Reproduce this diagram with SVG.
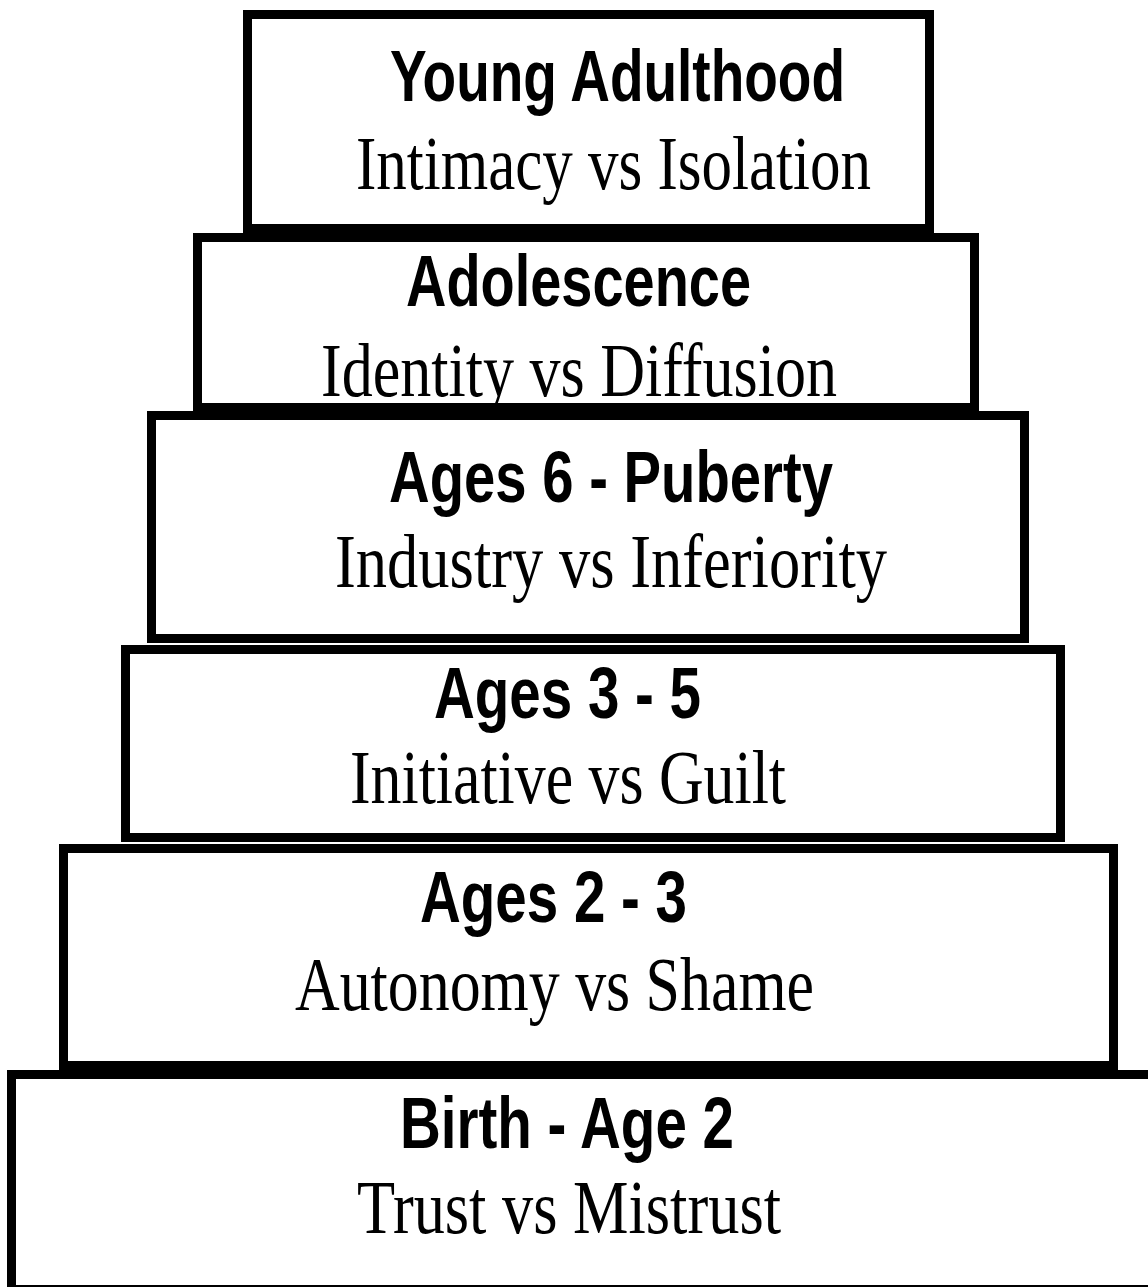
<svg xmlns="http://www.w3.org/2000/svg" width="1148" height="1287" viewBox="0 0 1148 1287">
  <style>
    .box { fill: #ffffff; stroke: #000000; stroke-width: 9; }
    .title { font-family: "Liberation Sans", Arial, sans-serif; font-weight: bold; font-size: 72px; fill: #000; }
    .sub { font-family: "Liberation Serif", "Times New Roman", serif; font-size: 76px; fill: #000; }
  </style>
  <rect x="0" y="0" width="1148" height="1287" fill="#ffffff"/>
  <g id="node-young-adulthood">
    <rect class="box" x="247.5" y="14.5" width="682" height="214"/>
    <text class="title" x="390" y="101" textLength="455" lengthAdjust="spacingAndGlyphs">Young Adulthood</text>
    <text class="sub" x="356" y="189" textLength="515" lengthAdjust="spacingAndGlyphs">Intimacy vs Isolation</text>
  </g>
  <g id="node-adolescence">
    <rect class="box" x="197.5" y="237.5" width="777" height="170"/>
    <text class="title" x="406" y="306" textLength="345" lengthAdjust="spacingAndGlyphs">Adolescence</text>
    <text class="sub" x="321" y="396" textLength="516" lengthAdjust="spacingAndGlyphs">Identity vs Diffusion</text>
  </g>
  <g id="node-ages-6-puberty">
    <rect class="box" x="151.5" y="415.5" width="873" height="223"/>
    <text class="title" x="389" y="502" textLength="444" lengthAdjust="spacingAndGlyphs">Ages 6 - Puberty</text>
    <text class="sub" x="335" y="587" textLength="552" lengthAdjust="spacingAndGlyphs">Industry vs Inferiority</text>
  </g>
  <g id="node-ages-3-5">
    <rect class="box" x="125.5" y="649.5" width="935" height="188"/>
    <text class="title" x="434" y="718" textLength="267" lengthAdjust="spacingAndGlyphs">Ages 3 - 5</text>
    <text class="sub" x="350" y="803" textLength="436" lengthAdjust="spacingAndGlyphs">Initiative vs Guilt</text>
  </g>
  <g id="node-ages-2-3">
    <rect class="box" x="63.5" y="848.5" width="1050" height="217"/>
    <text class="title" x="420" y="922" textLength="267" lengthAdjust="spacingAndGlyphs">Ages 2 - 3</text>
    <text class="sub" x="295" y="1010" textLength="519" lengthAdjust="spacingAndGlyphs">Autonomy vs Shame</text>
  </g>
  <g id="node-birth-age-2">
    <rect class="box" x="11.5" y="1074.5" width="1150" height="215"/>
    <text class="title" x="400" y="1148" textLength="334" lengthAdjust="spacingAndGlyphs">Birth - Age 2</text>
    <text class="sub" x="357" y="1233" textLength="424" lengthAdjust="spacingAndGlyphs">Trust vs Mistrust</text>
  </g>
</svg>
